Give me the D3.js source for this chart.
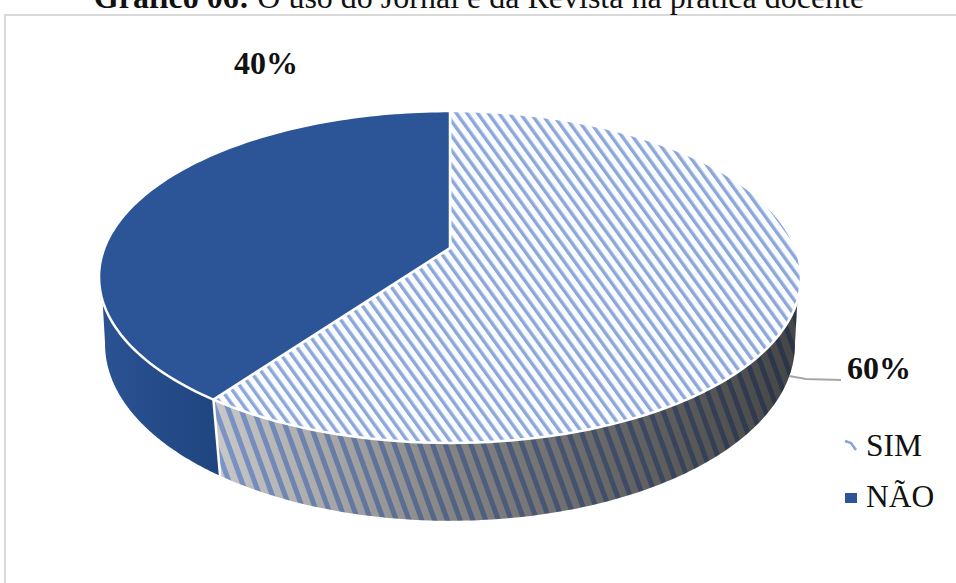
<!DOCTYPE html>
<html>
<head>
<meta charset="utf-8">
<script src="https://cdn.jsdelivr.net/npm/d3@7"></script>
<style>
  html, body { margin: 0; padding: 0; background: #fff; }
  text { font-family: "Liberation Serif", serif; fill: #111; }
</style>
</head>
<body>
<svg id="chart" width="956" height="583" style="display:block"></svg>
<script>
const categories = ['SIM', 'NÃO'];
const values = [60, 40];
const valueLabels = ['60%', '40%'];
const titleBold = 'Gráfico 06:';
const titleRest = ' O uso do Jornal e da Revista na prática docente';

const svg = d3.select('#chart');
const defs = svg.append('defs');

// perspective of the tilted disc, one set for each face
const topFace = { cx: 450, cy: 248, a: 345.6, b: 160.9, k: 0.1747 };
const bottomFace = { cx: 450, cy: 316, a: 340.5, b: 172, k: 0.16 };

const project = (face, t) => {
  const w = 1 + face.k * Math.cos(t);
  return [face.cx + face.a * Math.sin(t) / w, face.cy - face.b * Math.cos(t) / w];
};
const arcPoints = (face, t0, t1) =>
  d3.range(0, 121).map(i => project(face, t0 + (t1 - t0) * i / 120));

const pie = d3.pie().sort(null).value(d => d);
const slices = pie(values);
const line = d3.line().curve(d3.curveLinear);

// hatch fills
defs.append('pattern')
    .attr('id', 'hatch')
    .attr('patternUnits', 'userSpaceOnUse')
    .attr('width', 8.6).attr('height', 8.6)
    .attr('patternTransform', 'rotate(-36)')
  .call(p => p.append('rect').attr('width', 8.6).attr('height', 8.6).attr('fill', '#fbfcff'))
  .call(p => p.append('rect').attr('width', 3.4).attr('height', 8.6).attr('fill', '#8ca7da'));

defs.append('pattern')
    .attr('id', 'hatchSide')
    .attr('patternUnits', 'userSpaceOnUse')
    .attr('width', 12).attr('height', 12)
    .attr('patternTransform', 'rotate(-20)')
  .call(p => p.append('rect').attr('width', 12).attr('height', 12).attr('fill', '#cbcbcb'))
  .call(p => p.append('rect').attr('width', 5).attr('height', 12).attr('fill', '#7d97cb'));

const sideShade = defs.append('linearGradient')
    .attr('id', 'sideShade')
    .attr('gradientUnits', 'userSpaceOnUse')
    .attr('x1', 220).attr('x2', 800).attr('y1', 0).attr('y2', 0);
sideShade.append('stop').attr('offset', 0).attr('stop-color', '#000').attr('stop-opacity', 0.02);
sideShade.append('stop').attr('offset', 0.4).attr('stop-color', '#000').attr('stop-opacity', 0.35);
sideShade.append('stop').attr('offset', 1).attr('stop-color', '#000').attr('stop-opacity', 0.66);

const blueSide = defs.append('linearGradient')
    .attr('id', 'blueSide')
    .attr('gradientUnits', 'userSpaceOnUse')
    .attr('x1', 100).attr('x2', 220).attr('y1', 0).attr('y2', 0);
blueSide.append('stop').attr('offset', 0).attr('stop-color', '#2b5292');
blueSide.append('stop').attr('offset', 1).attr('stop-color', '#1f4580');

// chart frame
svg.append('rect')
    .attr('x', 5).attr('y', 15)
    .attr('width', 970).attr('height', 590)
    .attr('fill', '#fff')
    .attr('stroke', '#d9d9d9')
    .attr('stroke-width', 2);

// title, cut by the top of the page as in the scan
const title = svg.append('text')
    .attr('x', 479).attr('y', 8)
    .attr('text-anchor', 'middle')
    .attr('font-size', 32);
title.append('tspan').attr('font-weight', 'bold').text(titleBold);
title.append('tspan').text(titleRest);

// side walls: the upper end of each silhouette edge starts a bit lower on the rim
const wallPath = (topFrom, topTo, bottomFrom, bottomTo) =>
  line(arcPoints(topFace, topFrom, topTo).concat(arcPoints(bottomFace, bottomTo, bottomFrom))) + 'Z';

const sim = slices[0];
const nao = slices[1];
const rightTop = Math.PI * 0.6;
const rightBottom = Math.PI * 0.55;
const leftTop = Math.PI * 1.4;
const leftBottom = Math.PI * 1.45;

const simWall = wallPath(rightTop, sim.endAngle, rightBottom, sim.endAngle);
const walls = svg.append('g');
walls.append('path').attr('d', simWall).attr('fill', 'url(#hatchSide)');
walls.append('path').attr('d', simWall).attr('fill', 'url(#sideShade)');
walls.append('path')
    .attr('d', wallPath(nao.startAngle, leftTop, nao.startAngle, leftBottom))
    .attr('fill', 'url(#blueSide)');
walls.append('path')
    .attr('d', line([project(topFace, sim.endAngle), project(bottomFace, sim.endAngle)]))
    .attr('stroke', '#fff').attr('stroke-width', 2.5).attr('fill', 'none');

// top face
const fills = ['url(#hatch)', '#2b5597'];
svg.append('g').selectAll('path')
  .data(slices)
  .join('path')
    .attr('d', d => line([[topFace.cx, topFace.cy]].concat(arcPoints(topFace, d.startAngle, d.endAngle))) + 'Z')
    .attr('fill', (d, i) => fills[i])
    .attr('stroke', '#fff')
    .attr('stroke-width', 2.5)
    .attr('stroke-linejoin', 'round');

// value labels
svg.append('path')
    .attr('d', line([[789, 376], [806, 379], [841, 380]]))
    .attr('fill', 'none')
    .attr('stroke', '#a6a6a6')
    .attr('stroke-width', 2);

const labelPos = [[847, 379], [234, 74]];
svg.append('g').selectAll('text')
  .data(valueLabels)
  .join('text')
    .attr('x', (d, i) => labelPos[i][0])
    .attr('y', (d, i) => labelPos[i][1])
    .attr('font-size', 32)
    .attr('font-weight', 'bold')
    .text(d => d);

// legend
const legend = svg.append('g').selectAll('g')
  .data(categories)
  .join('g')
    .attr('transform', (d, i) => `translate(866,${456 + i * 51})`);
legend.append('text')
    .attr('x', 0).attr('y', 0)
    .attr('font-size', 31.5)
    .text(d => d);
legend.filter((d, i) => i === 1).append('rect')
    .attr('x', -21).attr('y', -14)
    .attr('width', 12).attr('height', 10)
    .attr('fill', '#2b5597');
legend.filter((d, i) => i === 0).append('path')
    .attr('d', line([[-21, -15], [-15, -13], [-10, -6]]))
    .attr('fill', 'none')
    .attr('stroke', '#86a2d8')
    .attr('stroke-width', 2.5);
</script>
</body>
</html>
